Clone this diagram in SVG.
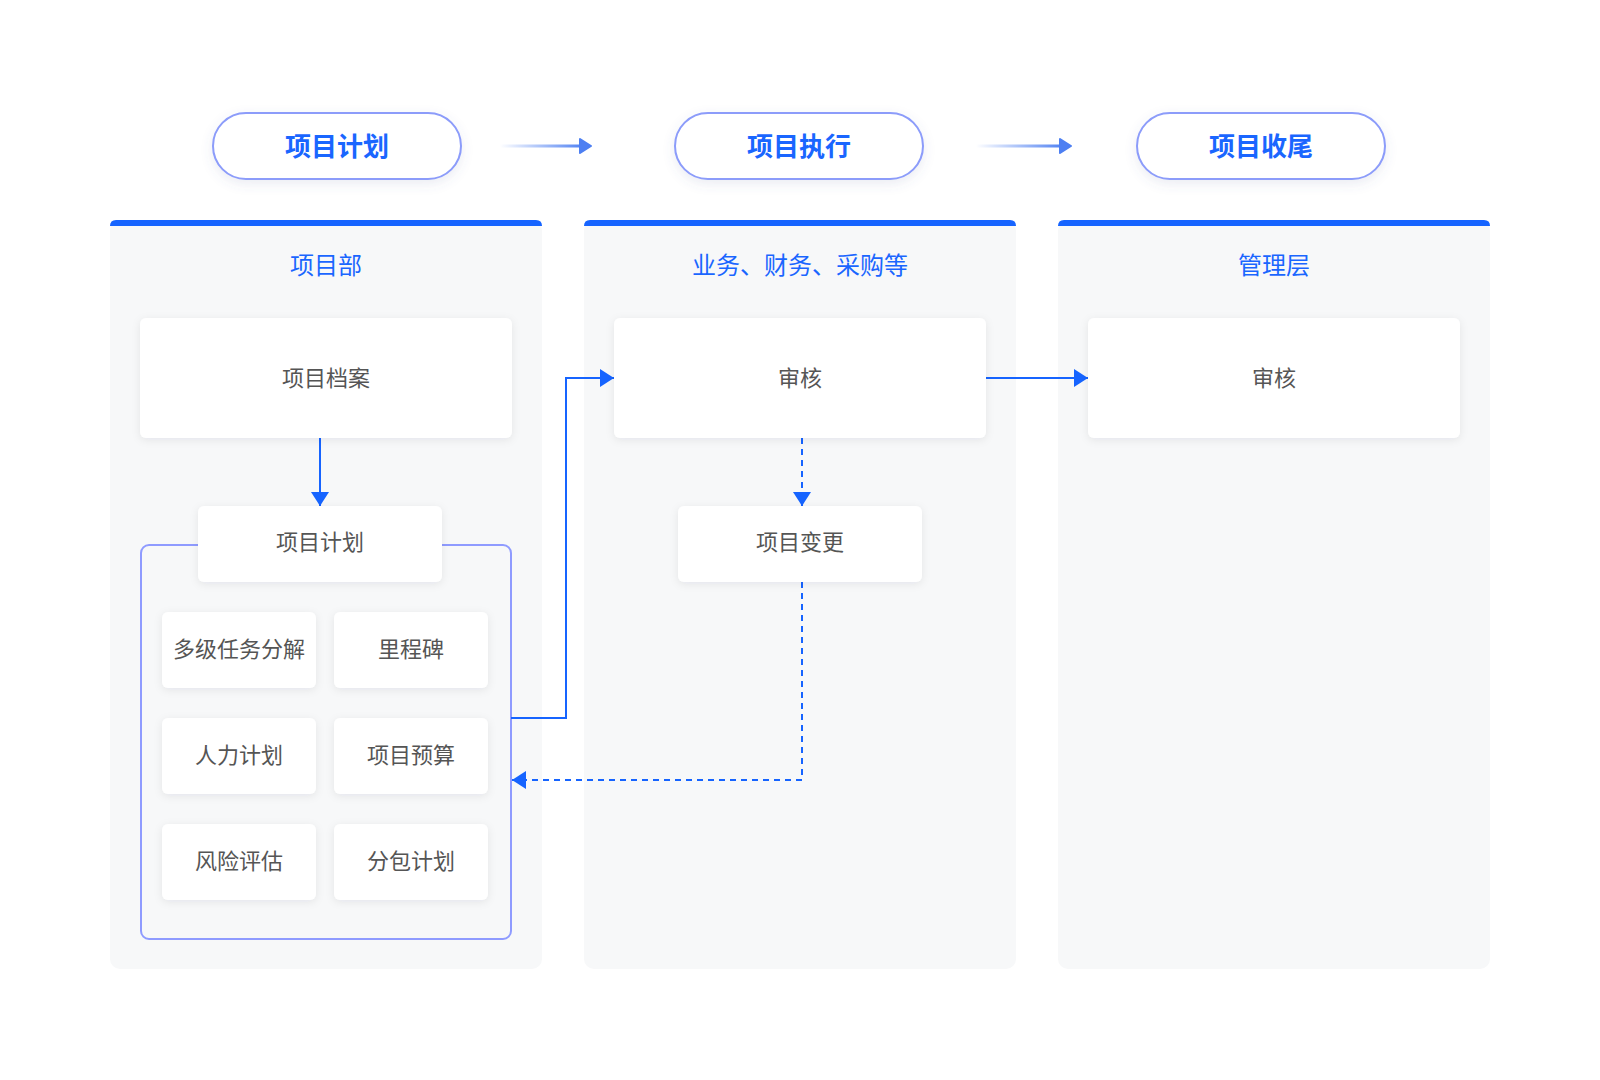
<svg xmlns="http://www.w3.org/2000/svg" width="1600" height="1080" viewBox="0 0 1600 1080">
<defs>
<style>
.pill{fill:#fff;stroke:#8C9CFA;stroke-width:2}
.pillt{font-family:"Noto Sans CJK SC",sans-serif;font-size:26px;font-weight:700;fill:#1A66FF;text-anchor:middle;dominant-baseline:central}
.panel{fill:#F7F8F9}
.bar{fill:#1664FF}
.ptitle{font-family:"Noto Sans CJK SC",sans-serif;font-size:24px;fill:#1A66FF;text-anchor:middle;dominant-baseline:central}
.card{fill:#fff}
.ct{font-family:"Noto Sans CJK SC",sans-serif;font-size:22px;fill:#555;text-anchor:middle;dominant-baseline:central}
.ln{fill:none;stroke:#1664FF;stroke-width:2}
.dash{stroke-dasharray:6 5}
.ga{fill:none;stroke-width:3}
</style>
<filter id="sh" x="-20%" y="-30%" width="140%" height="160%">
<feDropShadow dx="0" dy="2" stdDeviation="4" flood-color="#1F2A44" flood-opacity="0.08"/>
</filter>
<filter id="psh" x="-20%" y="-40%" width="140%" height="180%">
<feDropShadow dx="0" dy="4" stdDeviation="6" flood-color="#5A6A9A" flood-opacity="0.12"/>
</filter>
<linearGradient id="ag1" gradientUnits="userSpaceOnUse" x1="500" y1="0" x2="585" y2="0">
<stop offset="0" stop-color="#4D7FF2" stop-opacity="0"/>
<stop offset="1" stop-color="#4D7FF2"/>
</linearGradient>
<linearGradient id="ag2" gradientUnits="userSpaceOnUse" x1="976" y1="0" x2="1065" y2="0">
<stop offset="0" stop-color="#4D7FF2" stop-opacity="0"/>
<stop offset="1" stop-color="#4D7FF2"/>
</linearGradient>
<marker id="ah" viewBox="0 0 14 18" markerWidth="14" markerHeight="18" refX="14" refY="9" orient="auto" markerUnits="userSpaceOnUse">
<path d="M0,0 L14,9 L0,18 Z" fill="#1664FF"/>
</marker>
</defs>
<rect width="1600" height="1080" fill="#fff"/>

<g id="stages">
<g id="stage-plan">
<rect class="pill" x="213" y="113" width="248" height="66" rx="33" filter="url(#psh)"/>
<text class="pillt" x="337" y="144">项目计划</text>
</g>
<g id="stage-exec">
<rect class="pill" x="675" y="113" width="248" height="66" rx="33" filter="url(#psh)"/>
<text class="pillt" x="799" y="144">项目执行</text>
</g>
<g id="stage-close">
<rect class="pill" x="1137" y="113" width="248" height="66" rx="33" filter="url(#psh)"/>
<text class="pillt" x="1261" y="144">项目收尾</text>
</g>
</g>

<g id="panel-1">
<rect class="panel" x="110" y="220" width="432" height="749" rx="10"/>
<path class="bar" d="M110,226 Q110,220 116,220 L536,220 Q542,220 542,226 Z"/>
<text class="ptitle" x="326" y="263">项目部</text>
</g>
<g id="panel-2">
<rect class="panel" x="584" y="220" width="432" height="749" rx="10"/>
<path class="bar" d="M584,226 Q584,220 590,220 L1010,220 Q1016,220 1016,226 Z"/>
<text class="ptitle" x="800" y="263">业务、财务、采购等</text>
</g>
<g id="panel-3">
<rect class="panel" x="1058" y="220" width="432" height="749" rx="10"/>
<path class="bar" d="M1058,226 Q1058,220 1064,220 L1484,220 Q1490,220 1490,226 Z"/>
<text class="ptitle" x="1274" y="263">管理层</text>
</g>

<g id="plan-frame">
<rect x="141" y="545" width="370" height="394" rx="8" fill="none" stroke="#8F9BFF" stroke-width="2"/>
</g>

<g id="connectors">
<path class="ga" d="M500,146 L582,146" stroke="url(#ag1)"/>
<path d="M580,139 L591,146 L580,153 Z" fill="#4D7FF2" stroke="#4D7FF2" stroke-width="2" stroke-linejoin="round"/>
<path class="ga" d="M976,146 L1062,146" stroke="url(#ag2)"/>
<path d="M1060,139 L1071,146 L1060,153 Z" fill="#4D7FF2" stroke="#4D7FF2" stroke-width="2" stroke-linejoin="round"/>
<path class="ln" d="M320,438 L320,506" marker-end="url(#ah)"/>
<path class="ln" d="M511,718 L566,718 L566,378 L614,378" marker-end="url(#ah)"/>
<path class="ln" d="M986,378 L1088,378" marker-end="url(#ah)"/>
<path class="ln dash" d="M802,438 L802,506" marker-end="url(#ah)"/>
<path class="ln dash" d="M802,582 L802,780 L512,780" marker-end="url(#ah)"/>
</g>

<g id="node-archive">
<rect class="card" x="140" y="318" width="372" height="120" rx="6" filter="url(#sh)"/>
<text class="ct" x="326" y="376">项目档案</text>
</g>
<g id="node-plan">
<rect class="card" x="198" y="506" width="244" height="76" rx="6" filter="url(#sh)"/>
<text class="ct" x="320" y="540">项目计划</text>
</g>
<g id="node-wbs">
<rect class="card" x="162" y="612" width="154" height="76" rx="6" filter="url(#sh)"/>
<text class="ct" x="239" y="647">多级任务分解</text>
</g>
<g id="node-milestone">
<rect class="card" x="334" y="612" width="154" height="76" rx="6" filter="url(#sh)"/>
<text class="ct" x="411" y="647">里程碑</text>
</g>
<g id="node-hr">
<rect class="card" x="162" y="718" width="154" height="76" rx="6" filter="url(#sh)"/>
<text class="ct" x="239" y="753">人力计划</text>
</g>
<g id="node-budget">
<rect class="card" x="334" y="718" width="154" height="76" rx="6" filter="url(#sh)"/>
<text class="ct" x="411" y="753">项目预算</text>
</g>
<g id="node-risk">
<rect class="card" x="162" y="824" width="154" height="76" rx="6" filter="url(#sh)"/>
<text class="ct" x="239" y="859">风险评估</text>
</g>
<g id="node-sub">
<rect class="card" x="334" y="824" width="154" height="76" rx="6" filter="url(#sh)"/>
<text class="ct" x="411" y="859">分包计划</text>
</g>
<g id="node-review-1">
<rect class="card" x="614" y="318" width="372" height="120" rx="6" filter="url(#sh)"/>
<text class="ct" x="800" y="376">审核</text>
</g>
<g id="node-change">
<rect class="card" x="678" y="506" width="244" height="76" rx="6" filter="url(#sh)"/>
<text class="ct" x="800" y="540">项目变更</text>
</g>
<g id="node-review-2">
<rect class="card" x="1088" y="318" width="372" height="120" rx="6" filter="url(#sh)"/>
<text class="ct" x="1274" y="376">审核</text>
</g>
</svg>
